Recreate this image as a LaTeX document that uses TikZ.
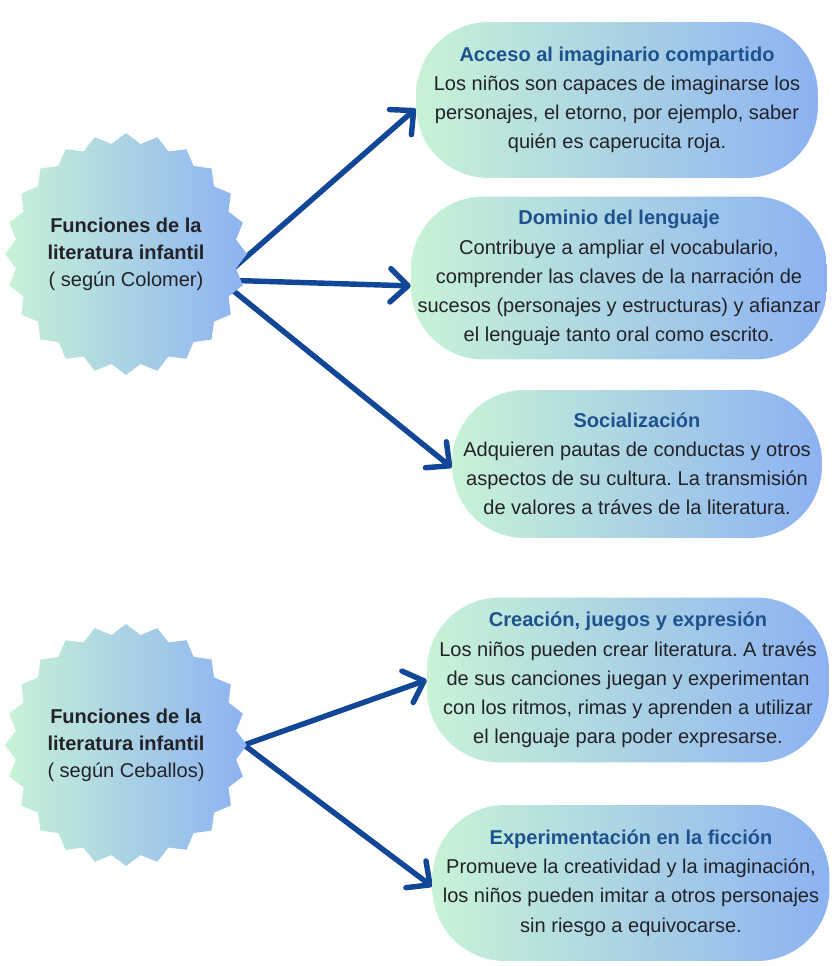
\documentclass[tikz,border=0pt]{standalone}
\usepackage{fontspec}
\setmainfont{Liberation Sans}
\usetikzlibrary{shapes.geometric,arrows.meta,backgrounds}

\definecolor{mint}{RGB}{200,243,214}
\definecolor{sky}{RGB}{140,178,242}
\definecolor{arrowblue}{RGB}{18,70,150}
\definecolor{titleblue}{RGB}{30,82,142}
\definecolor{bodytext}{RGB}{34,34,40}
\newcommand{\boxtitle}[1]{\textbf{\textcolor{titleblue}{#1}}}
\frenchspacing

\begin{document}
\begin{tikzpicture}[x=0.02cm,y=-0.02cm,
    burst/.style={star,star points=24,star point ratio=1.09,inner sep=0pt,
      minimum size=4.34cm,left color=mint,right color=sky,align=center,
      text=bodytext,font=\fontsize{11.4pt}{15.4pt}\selectfont},
    pill/.style={rectangle,rounded corners=1.45cm,inner sep=0pt,
      left color=mint,right color=sky,align=center,text=bodytext,
      font=\fontsize{11.4pt}{16.6pt}\selectfont},
    link/.style={arrowblue,line width=3.1pt,line cap=round,
      -{Straight Barb[length=10pt 0 0,width=19pt 0 0,round]}}]
  \useasboundingbox (0,0) rectangle (833,966);

  % Colomer
  \node[burst] (colomer) at (126,254)
    {\textbf{Funciones de la}\\\textbf{literatura infantil}\\( según Colomer)};
  \node[pill,minimum width=8.04cm,minimum height=3.12cm] (acceso) at (617,100)
    {\boxtitle{Acceso al imaginario compartido}\\Los niños son capaces de imaginarse los\\
     personajes, el etorno, por ejemplo, saber\\quién es caperucita roja.};
  \node[pill,minimum width=8.32cm,minimum height=3.26cm] (dominio) at (619,278)
    {\boxtitle{Dominio del lenguaje}\\Contribuye a ampliar el vocabulario,\\
     comprender las claves de la narración de\\sucesos (personajes y estructuras) y afianzar\\
     el lenguaje tanto oral como escrito.};
  \node[pill,minimum width=7.4cm,minimum height=2.96cm] (social) at (637,464)
    {\boxtitle{Socialización}\\Adquieren pautas de conductas y otros\\
     aspectos de su cultura. La transmisión\\de valores a tráves de la literatura.};

  % Ceballos
  \node[burst] (ceballos) at (126,745)
    {\textbf{Funciones de la}\\\textbf{literatura infantil}\\( según Ceballos)};
  \node[pill,minimum width=8.04cm,minimum height=3.3cm] (creacion) at (628,680)
    {\boxtitle{Creación, juegos y expresión}\\Los niños pueden crear literatura. A través\\
     de sus canciones juegan y experimentan\\con los ritmos, rimas y aprenden a utilizar\\
     el lenguaje para poder expresarse.};
  \node[pill,minimum width=7.94cm,minimum height=3.12cm] (experim) at (631,883)
    {\boxtitle{Experimentación en la ficción}\\Promueve la creatividad y la imaginación,\\
     los niños pueden imitar a otros personajes\\sin riesgo a equivocarse.};

  \coordinate (o1) at (220,280);
  \coordinate (o2) at (244,745);
  \begin{scope}[on background layer]
    \draw[link] (o1) -- ([yshift=-5pt]acceso.west);
    \draw[link] (o1) -- ([yshift=-4.5pt]dominio.west);
    \draw[link] (o1) -- ([yshift=-2pt]social.west);
    \draw[link] (o2) -- (creacion.west);
    \draw[link] (o2) -- ([yshift=-2pt]experim.west);
  \end{scope}
\end{tikzpicture}
\end{document}
